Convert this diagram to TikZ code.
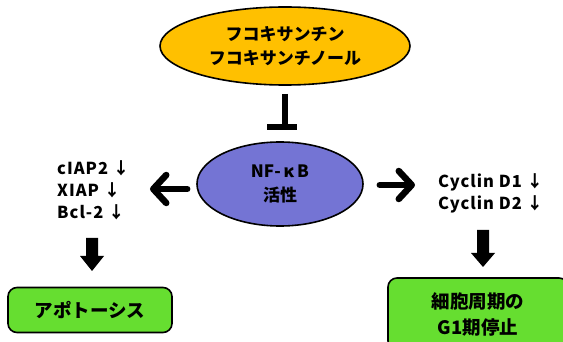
\documentclass[tikz,border=0pt]{standalone}
\usepackage{fontspec}
\setmainfont{Noto Sans CJK JP}[BoldFont={Noto Sans CJK JP Black}]
\usetikzlibrary{shapes.geometric,arrows.meta}
\definecolor{ylw}{RGB}{255,192,0}
\definecolor{blu}{RGB}{116,116,212}
\definecolor{grn}{RGB}{102,222,48}
\tikzset{
  ell/.style={ellipse,draw=black,line width=1.6pt,inner sep=0pt,align=center,font=\bfseries\fontsize{17}{24}\selectfont},
  gbox/.style={rectangle,rounded corners=9pt,draw=black,line width=1.6pt,fill=grn,align=center,inner sep=0pt,font=\bfseries\fontsize{18.5}{26}\selectfont},
  lbl/.style={align=left,inner sep=0pt,font=\bfseries\fontsize{16.5}{22}\selectfont\addfontfeatures{LetterSpace=6}},
  fat/.style={line width=6.5pt,line cap=round,-{Straight Barb[round,length=13pt,width=28pt,line width=6.5pt]}},
  blockdown/.style={fill=black},
}
\begin{document}
\begin{tikzpicture}[x=1pt,y=-1pt]
\useasboundingbox (0,0) rectangle (563,342);
\node[ell,fill=ylw,minimum width=250pt,minimum height=78pt] (fuco) at (285,46) {フコキサンチン\\フコキサンチノール};
\node[ell,fill=blu,minimum width=166pt,minimum height=84pt] (nfkb) at (280,184) {NF-\,κ\,B\\活性};
\node[lbl,anchor=west] (anti) at (57,190) {cIAP2 ↓\\XIAP ↓\\Bcl-2 ↓};
\node[lbl,anchor=west] (cyc) at (438,193) {Cyclin D1 ↓\\Cyclin D2 ↓};
\node[gbox,minimum width=164pt,minimum height=45pt] (apo) at (90,310) {アポトーシス};
\node[gbox,minimum width=180pt,minimum height=72pt] (arr) at (478,314) {細胞周期の\\G1期停止};
% inhibition T-bar
\coordinate (tbar) at (282,127);
\draw[line width=6pt] (fuco.south |- 0,94) -- (tbar -| fuco.south);
\draw[line width=6pt] (267,127) -- (297,127);
% horizontal arrows
\coordinate (ltip) at (150,189);
\coordinate (rtip) at (415,185);
\draw[fat,shorten <=9pt] (nfkb.west |- ltip) -- (ltip);
\draw[fat,shorten <=16pt] (nfkb.east |- rtip) -- (rtip);
% block down arrows
\fill[blockdown] (86,238) -- (98,238) -- (98,256) -- (104,256) -- (92,271) -- (80,256) -- (86,256) -- cycle;
\fill[blockdown] (477,230) -- (489,230) -- (489,253) -- (495,253) -- (483,267) -- (471,253) -- (477,253) -- cycle;
\end{tikzpicture}
\end{document}
